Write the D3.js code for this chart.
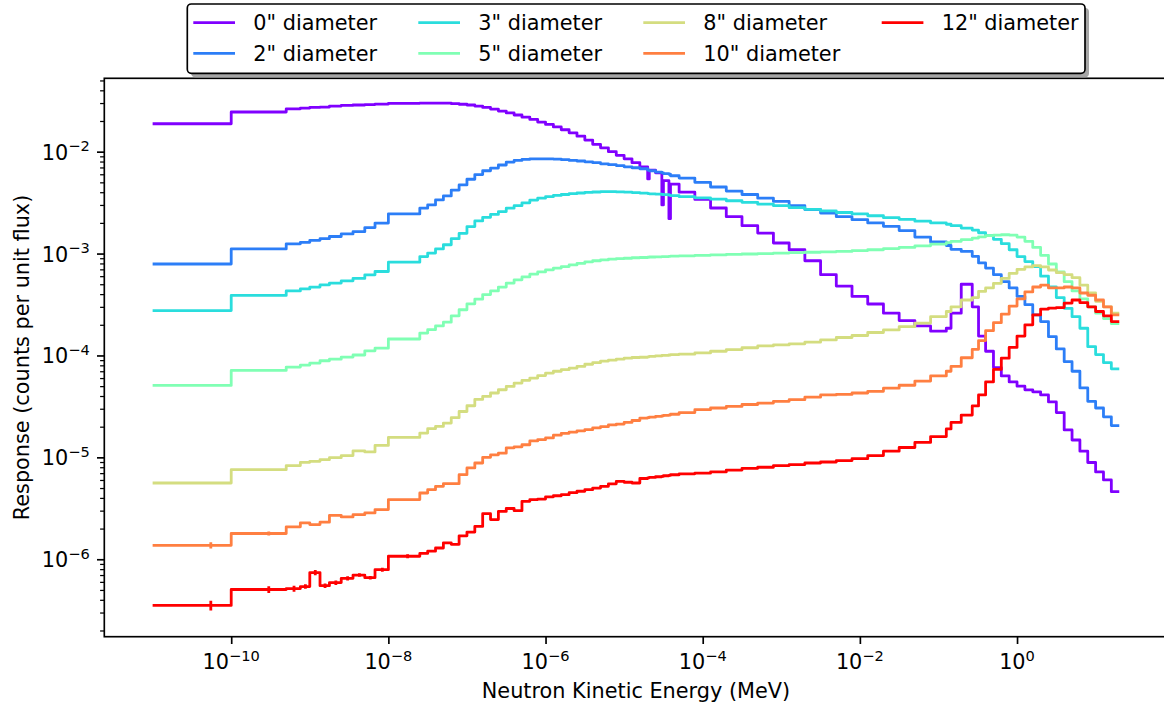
<!DOCTYPE html>
<html>
<head>
<meta charset="utf-8">
<title>Bonner sphere response</title>
<script src="https://d3js.org/d3.v7.min.js"></script>
<style>
  body { margin: 0; background: #fff; }
  svg { display: block; font-family: "DejaVu Sans", sans-serif; }
</style>
</head>
<body>
<div id="chart"></div>
<script>

  // Bin edges of the response histograms, as powers of ten (MeV)
  var edgeExp = [
    -11, -10, -9.3, -9.12, -9.0, -8.87, -8.75, -8.6, -8.45, -8.3, -8.17, -8.0, -7.6,
    -7.5, -7.4, -7.3, -7.2, -7.1, -7.0, -6.9, -6.8, -6.7, -6.6, -6.5, -6.4, -6.3, -6.2,
    -6.1, -6.0, -5.9, -5.8, -5.7, -5.6, -5.5, -5.4, -5.3, -5.2, -5.1, -5.0, -4.9, -4.8,
    -4.7, -4.68, -4.6, -4.52, -4.5, -4.43, -4.41, -4.3,
    -4.1, -3.9, -3.7, -3.5, -3.3, -3.1, -2.9, -2.7, -2.5, -2.3, -2.1, -1.9, -1.7, -1.5,
    -1.3, -1.1, -0.9,
    -0.84, -0.71, -0.57, -0.49, -0.4, -0.3, -0.2, -0.1, 0, 0.1, 0.2, 0.3, 0.4, 0.5, 0.6,
    0.7, 0.8, 0.9, 1.0, 1.1, 1.2, 1.301
  ];

  // Response per bin (counts per unit flux), one list per sphere
  var resp0 = [
    1.88e-2, 2.45e-2, 2.63e-2, 2.68e-2, 2.72e-2, 2.74e-2, 2.80e-2, 2.84e-2, 2.87e-2, 2.90e-2,
    2.93e-2, 2.98e-2, 3.00e-2, 3.00e-2, 3.00e-2, 2.99e-2, 2.96e-2, 2.92e-2, 2.87e-2, 2.80e-2,
    2.72e-2, 2.62e-2, 2.50e-2, 2.40e-2, 2.29e-2, 2.18e-2, 2.07e-2, 1.95e-2, 1.85e-2, 1.75e-2,
    1.64e-2, 1.53e-2, 1.42e-2, 1.30e-2, 1.18e-2, 1.09e-2, 1.00e-2, 9.2e-3, 8.5e-3, 7.8e-3,
    7.1e-3, 5.4e-3, 6.6e-3, 6.2e-3, 3.0e-3, 5.2e-3, 2.2e-3, 4.8e-3,
    4.0e-3, 3.4e-3, 2.8e-3, 2.3e-3, 1.88e-3, 1.59e-3, 1.27e-3, 1.09e-3, 8.5e-4, 6.2e-4,
    4.8e-4, 3.8e-4, 3.2e-4, 2.6e-4, 2.2e-4, 1.95e-4, 1.73e-4,
    1.85e-4, 2.6e-4, 5.0e-4, 3.0e-4, 1.55e-4, 1.1e-4, 7.6e-5, 6.3e-5, 5.5e-5,
    5.0e-5, 4.6e-5, 4.4e-5, 4.1e-5, 3.5e-5, 2.75e-5, 1.86e-5, 1.48e-5, 1.15e-5, 8.9e-6,
    7.2e-6, 6.0e-6, 4.6e-6
  ];
  var resp2 = [
    7.9e-4, 1.11e-3, 1.245e-3, 1.29e-3, 1.35e-3, 1.40e-3, 1.47e-3, 1.56e-3, 1.64e-3, 1.80e-3,
    1.99e-3, 2.45e-3, 2.79e-3, 3.0e-3, 3.36e-3, 3.68e-3, 4.2e-3, 4.72e-3, 5.36e-3, 5.96e-3,
    6.5e-3, 6.9e-3, 7.4e-3, 7.9e-3, 8.2e-3, 8.4e-3, 8.5e-3, 8.5e-3, 8.5e-3, 8.45e-3,
    8.35e-3, 8.2e-3, 8.1e-3, 7.95e-3, 7.8e-3, 7.6e-3, 7.45e-3, 7.3e-3, 7.1e-3, 6.95e-3,
    6.8e-3, 6.6e-3, 6.5e-3, 6.3e-3, 6.2e-3, 6.1e-3, 6.0e-3, 5.8e-3,
    5.5e-3, 5.0e-3, 4.5e-3, 4.1e-3, 3.8e-3, 3.5e-3, 3.25e-3, 2.95e-3, 2.7e-3, 2.5e-3,
    2.3e-3, 2.15e-3, 2.0e-3, 1.85e-3, 1.68e-3, 1.45e-3, 1.3e-3,
    1.2e-3, 1.1e-3, 1.05e-3, 9.4e-4, 8.1e-4, 7.2e-4, 6.2e-4, 5.3e-4, 4.6e-4,
    3.8e-4, 3.15e-4, 2.5e-4, 2.15e-4, 1.53e-4, 1.16e-4, 8.7e-5, 7.0e-5, 4.8e-5, 3.55e-5,
    3.05e-5, 2.5e-5, 2.05e-5
  ];
  var resp3 = [
    2.76e-4, 3.88e-4, 4.3e-4, 4.5e-4, 4.69e-4, 4.93e-4, 5.13e-4, 5.4e-4, 5.7e-4, 6.18e-4,
    6.67e-4, 8.24e-4, 9.35e-4, 1.01e-3, 1.11e-3, 1.22e-3, 1.4e-3, 1.58e-3, 1.84e-3, 2.09e-3,
    2.27e-3, 2.42e-3, 2.58e-3, 2.79e-3, 2.95e-3, 3.15e-3, 3.35e-3, 3.5e-3, 3.62e-3, 3.72e-3,
    3.8e-3, 3.87e-3, 3.93e-3, 3.98e-3, 4.02e-3, 4.05e-3, 4.05e-3, 4.03e-3, 4.0e-3, 3.97e-3,
    3.92e-3, 3.88e-3, 3.86e-3, 3.83e-3, 3.8e-3, 3.78e-3, 3.75e-3, 3.7e-3,
    3.62e-3, 3.52e-3, 3.42e-3, 3.3e-3, 3.18e-3, 3.05e-3, 2.95e-3, 2.82e-3, 2.72e-3, 2.62e-3,
    2.53e-3, 2.45e-3, 2.35e-3, 2.25e-3, 2.17e-3, 2.08e-3, 2.0e-3,
    1.94e-3, 1.88e-3, 1.78e-3, 1.7e-3, 1.6e-3, 1.5e-3, 1.38e-3, 1.25e-3, 1.09e-3,
    9.35e-4, 8.35e-4, 7.46e-4, 6.0e-4, 4.7e-4, 3.7e-4, 2.9e-4, 2.4e-4, 1.85e-4, 1.22e-4,
    1.02e-4, 8.5e-5, 7.4e-5
  ];
  var resp5 = [
    5.08e-5, 7.13e-5, 7.69e-5, 8.05e-5, 8.42e-5, 8.87e-5, 9.2e-5, 9.65e-5, 1.01e-4, 1.11e-4,
    1.18e-4, 1.45e-4, 1.66e-4, 1.79e-4, 1.95e-4, 2.12e-4, 2.45e-4, 2.81e-4, 3.21e-4, 3.57e-4,
    3.96e-4, 4.3e-4, 4.69e-4, 5.13e-4, 5.52e-4, 5.9e-4, 6.28e-4, 6.6e-4, 6.92e-4, 7.2e-4,
    7.45e-4, 7.74e-4, 8.0e-4, 8.3e-4, 8.5e-4, 8.67e-4, 8.8e-4, 8.9e-4, 9.0e-4, 9.1e-4,
    9.15e-4, 9.2e-4, 9.25e-4, 9.3e-4, 9.35e-4, 9.35e-4, 9.4e-4, 9.45e-4,
    9.5e-4, 9.6e-4, 9.7e-4, 9.8e-4, 9.9e-4, 1.0e-3, 1.01e-3, 1.02e-3, 1.03e-3, 1.04e-3,
    1.05e-3, 1.07e-3, 1.09e-3, 1.12e-3, 1.15e-3, 1.19e-3, 1.24e-3,
    1.28e-3, 1.32e-3, 1.37e-3, 1.42e-3, 1.46e-3, 1.5e-3, 1.52e-3, 1.53e-3, 1.52e-3,
    1.45e-3, 1.32e-3, 1.15e-3, 9.6e-4, 7.9e-4, 6.6e-4, 5.3e-4, 4.3e-4, 3.6e-4, 3.0e-4,
    2.6e-4, 2.3e-4, 2.05e-4
  ];
  var resp8 = [
    5.6e-6, 7.57e-6, 8.3e-6, 8.94e-6, 9.14e-6, 9.5e-6, 9.93e-6, 1.04e-5, 1.16e-5, 1.13e-5,
    1.31e-5, 1.57e-5, 1.73e-5, 1.91e-5, 2.01e-5, 2.17e-5, 2.45e-5, 2.82e-5, 3.21e-5, 3.7e-5,
    3.96e-5, 4.28e-5, 4.61e-5, 4.97e-5, 5.36e-5, 5.7e-5, 6.0e-5, 6.35e-5, 6.71e-5, 7.0e-5,
    7.25e-5, 7.5e-5, 7.8e-5, 8.2e-5, 8.5e-5, 8.8e-5, 9.0e-5, 9.2e-5, 9.4e-5, 9.55e-5,
    9.6e-5, 9.7e-5, 9.8e-5, 9.9e-5, 1.0e-4, 1.0e-4, 1.01e-4, 1.02e-4,
    1.03e-4, 1.06e-4, 1.1e-4, 1.14e-4, 1.19e-4, 1.24e-4, 1.27e-4, 1.3e-4, 1.35e-4, 1.42e-4,
    1.5e-4, 1.57e-4, 1.68e-4, 1.78e-4, 1.92e-4, 2.08e-4, 2.4e-4,
    2.7e-4, 3.0e-4, 3.5e-4, 3.7e-4, 4.25e-4, 4.6e-4, 5.1e-4, 5.7e-4, 6.4e-4,
    7.0e-4, 7.4e-4, 7.6e-4, 7.4e-4, 6.9e-4, 6.5e-4, 6.2e-4, 5.8e-4, 4.9e-4, 4.1e-4,
    3.4e-4, 3.0e-4, 2.6e-4
  ];
  var resp10 = [
    1.37e-6, 1.79e-6, 2.08e-6, 2.28e-6, 2.19e-6, 2.31e-6, 2.7e-6, 2.6e-6, 2.74e-6, 2.85e-6,
    3.07e-6, 3.85e-6, 4.47e-6, 4.82e-6, 5.2e-6, 5.52e-6, 5.52e-6, 6.76e-6, 7.87e-6, 8.8e-6,
    1.0e-5, 1.06e-5, 1.1e-5, 1.24e-5, 1.27e-5, 1.33e-5, 1.45e-5, 1.49e-5, 1.55e-5, 1.65e-5,
    1.72e-5, 1.77e-5, 1.82e-5, 1.87e-5, 1.95e-5, 2.0e-5, 2.08e-5, 2.12e-5, 2.2e-5, 2.3e-5,
    2.43e-5, 2.45e-5, 2.48e-5, 2.52e-5, 2.55e-5, 2.58e-5, 2.6e-5, 2.65e-5,
    2.75e-5, 2.94e-5, 3.05e-5, 3.16e-5, 3.3e-5, 3.41e-5, 3.55e-5, 3.68e-5, 3.9e-5, 4.1e-5,
    4.15e-5, 4.28e-5, 4.45e-5, 4.78e-5, 5.1e-5, 5.6e-5, 6.3e-5,
    7.0e-5, 7.8e-5, 9.5e-5, 1.15e-4, 1.4e-4, 1.75e-4, 2.1e-4, 2.55e-4, 3.05e-4,
    3.6e-4, 4.2e-4, 4.7e-4, 4.9e-4, 4.6e-4, 4.6e-4, 4.7e-4, 4.6e-4, 4.1e-4, 3.9e-4,
    3.5e-4, 3.0e-4, 2.5e-4
  ];
  var resp12 = [
    3.52e-7, 5.05e-7, 5.15e-7, 5.4e-7, 7.4e-7, 5.5e-7, 5.9e-7, 6.5e-7, 7.0e-7, 6.6e-7,
    7.9e-7, 1.07e-6, 1.14e-6, 1.2e-6, 1.29e-6, 1.45e-6, 1.4e-6, 1.7e-6, 1.85e-6, 2.1e-6,
    2.8e-6, 2.45e-6, 2.95e-6, 3.15e-6, 3.0e-6, 3.7e-6, 3.85e-6, 3.9e-6, 4.1e-6, 4.2e-6,
    4.3e-6, 4.5e-6, 4.65e-6, 4.82e-6, 5.0e-6, 5.2e-6, 5.5e-6, 5.8e-6, 5.7e-6, 5.6e-6,
    6.2e-6, 6.3e-6, 6.35e-6, 6.45e-6, 6.5e-6, 6.6e-6, 6.65e-6, 6.75e-6,
    6.9e-6, 7.0e-6, 7.2e-6, 7.5e-6, 7.8e-6, 8.0e-6, 8.3e-6, 8.5e-6, 8.8e-6, 9.0e-6,
    9.3e-6, 9.7e-6, 1.04e-5, 1.15e-5, 1.25e-5, 1.4e-5, 1.6e-5,
    1.9e-5, 2.2e-5, 2.6e-5, 3.2e-5, 4.1e-5, 5.5e-5, 7.3e-5, 9.4e-5, 1.2e-4,
    1.55e-4, 2.0e-4, 2.5e-4, 2.85e-4, 2.92e-4, 2.95e-4, 3.27e-4, 3.5e-4, 3.3e-4, 3.0e-4,
    2.7e-4, 2.45e-4, 2.15e-4
  ];

  // Relative statistical errors of the first bins (the rest are too small to show)
  var err10 = [0.07, 0.045];
  var err12 = [0.11, 0.075, 0.07, 0.05, 0.06, 0.05, 0.05, 0.05, 0.04, 0.04, 0.045, 0.045];

  var labels = ['0" diameter', '2" diameter', '3" diameter', '5" diameter',
                '8" diameter', '10" diameter', '12" diameter'];
  var colors = ['#8000ff', '#2c7ef7', '#2adddd', '#80ffb4', '#d4dd80', '#ff7f41', '#ff0000'];

  var xTicks = [1e-10, 1e-8, 1e-6, 1e-4, 1e-2, 1];
  var yTicks = [1e-6, 1e-5, 1e-4, 1e-3, 1e-2];

  var edges = edgeExp.map(function(e) { return Math.pow(10, e); });
  var series = [resp0, resp2, resp3, resp5, resp8, resp10, resp12];
  var errors = [[], [], [], [], [], err10, err12];

  // Plot frame (the right spine lies just outside the picture)
  var frame = {left: 104.3, right: 1167.6, top: 78.3, bottom: 636.7};
  var fontSize = 20.8, supSize = 14.6;

  var x = d3.scaleLog()
            .domain([Math.pow(10, -11.615), Math.pow(10, 1.916)])
            .range([frame.left, frame.right]);
  var y = d3.scaleLog()
            .domain([Math.pow(10, -6.76), Math.pow(10, -1.28)])
            .range([frame.bottom, frame.top]);

  var svg = d3.select('#chart').append('svg')
                .attr('width', 1164)
                .attr('height', 707);

  svg.append('rect').attr('width', 1164).attr('height', 707).attr('fill', '#fff');

  svg.append('clipPath').attr('id', 'plot-clip')
     .append('rect')
       .attr('x', frame.left).attr('y', frame.top)
       .attr('width', frame.right - frame.left).attr('height', frame.bottom - frame.top);

  var plot = svg.append('g').attr('clip-path', 'url(#plot-clip)');

  var stepLine = d3.line()
                   .x(function(d) { return x(d[0]); })
                   .y(function(d) { return y(d[1]); })
                   .curve(d3.curveStepAfter);

  series.forEach(function(vals, k) {
    var pts = vals.map(function(v, i) { return [edges[i], v]; });
    pts.push([edges[vals.length], vals[vals.length - 1]]);

    plot.append('path')
          .attr('d', stepLine(pts))
          .attr('fill', 'none')
          .attr('stroke', colors[k])
          .attr('stroke-width', 2.8)
          .attr('stroke-linejoin', 'round');

    // error bars at the linear centre of each bin
    errors[k].forEach(function(e, i) {
      var xc = x((edges[i] + edges[i + 1]) / 2);
      plot.append('line')
            .attr('x1', xc).attr('x2', xc)
            .attr('y1', y(vals[i] * (1 + e)))
            .attr('y2', y(vals[i] * (1 - e)))
            .attr('stroke', colors[k])
            .attr('stroke-width', 2.8);
    });
  });

  // Minor y ticks: 2..9 in every decade inside the domain
  var yMinor = [];
  [-7, -6, -5, -4, -3, -2].forEach(function(p) {
    [2, 3, 4, 5, 6, 7, 8, 9].forEach(function(m) {
      var v = m * Math.pow(10, p);
      if (v > y.domain()[0] && v < y.domain()[1]) yMinor.push(v);
    });
  });

  var xAxis = d3.axisBottom(x).tickValues(xTicks).tickSize(7.3).tickFormat('');
  var yAxis = d3.axisLeft(y).tickValues(yTicks).tickSize(7.3).tickFormat('');
  var yAxisMinor = d3.axisLeft(y).tickValues(yMinor).tickSize(4.2).tickFormat('');

  var gx = svg.append('g').attr('transform', 'translate(0,' + frame.bottom + ')').call(xAxis);
  var gy = svg.append('g').attr('transform', 'translate(' + frame.left + ',0)').call(yAxis);
  var gym = svg.append('g').attr('transform', 'translate(' + frame.left + ',0)').call(yAxisMinor);

  [gx, gy, gym].forEach(function(g) { g.select('.domain').remove(); });
  gx.selectAll('line').attr('stroke', '#000').attr('stroke-width', 1.67);
  gy.selectAll('line').attr('stroke', '#000').attr('stroke-width', 1.67);
  gym.selectAll('line').attr('stroke', '#000').attr('stroke-width', 1.25);

  function powerLabel(t, v) {
    var p = Math.round(Math.log10(v));
    t.append('tspan').text('10');
    t.append('tspan')
       .attr('dy', -8.3)
       .style('font-size', supSize + 'px')
       .text(p < 0 ? '\u2212' + (-p) : String(p));
  }

  xTicks.forEach(function(v) {
    var t = svg.append('text')
                 .attr('x', x(v))
                 .attr('y', 669)
                 .attr('text-anchor', 'middle')
                 .style('font-size', fontSize + 'px');
    powerLabel(t, v);
  });

  yTicks.forEach(function(v) {
    var t = svg.append('text')
                 .attr('x', frame.left - 14.6)
                 .attr('y', y(v) + 8)
                 .attr('text-anchor', 'end')
                 .style('font-size', fontSize + 'px');
    powerLabel(t, v);
  });

  // Spines
  svg.append('rect')
       .attr('x', frame.left).attr('y', frame.top)
       .attr('width', frame.right - frame.left).attr('height', frame.bottom - frame.top)
       .attr('fill', 'none')
       .attr('stroke', '#000')
       .attr('stroke-width', 1.67);

  // Axis labels
  svg.append('text')
       .attr('x', (frame.left + frame.right) / 2)
       .attr('y', 698)
       .attr('text-anchor', 'middle')
       .style('font-size', fontSize + 'px')
       .text('Neutron Kinetic Energy (MeV)');

  svg.append('text')
       .attr('transform', 'translate(28.7,' + ((frame.top + frame.bottom) / 2) + ') rotate(-90)')
       .attr('text-anchor', 'middle')
       .style('font-size', fontSize + 'px')
       .text('Response (counts per unit flux)');

  // Legend: 4 columns, filled column by column
  var legend = svg.append('g');
  var lx = 187.3, ly = 4, lw = 897.7, lh = 69.3;
  legend.append('rect')
          .attr('x', lx + 4).attr('y', ly + 4)
          .attr('width', lw).attr('height', lh)
          .attr('rx', 4)
          .attr('fill', '#a6a6a6');
  legend.append('rect')
          .attr('x', lx).attr('y', ly)
          .attr('width', lw).attr('height', lh)
          .attr('rx', 4)
          .attr('fill', '#fff')
          .attr('stroke', '#000')
          .attr('stroke-width', 1.67);

  var colX = [193.3, 418.3, 643.3, 881.7];
  var rowY = [22.7, 53.3];

  labels.forEach(function(lab, k) {
    var cx = colX[Math.floor(k / 2)];
    var cy = rowY[k % 2];
    legend.append('line')
            .attr('x1', cx).attr('x2', cx + 41.7)
            .attr('y1', cy).attr('y2', cy)
            .attr('stroke', colors[k])
            .attr('stroke-width', 2.8);
    legend.append('text')
            .attr('x', cx + 60)
            .attr('y', cy + 7.6)
            .style('font-size', fontSize + 'px')
            .text(lab);
  });

</script>
</body>
</html>
